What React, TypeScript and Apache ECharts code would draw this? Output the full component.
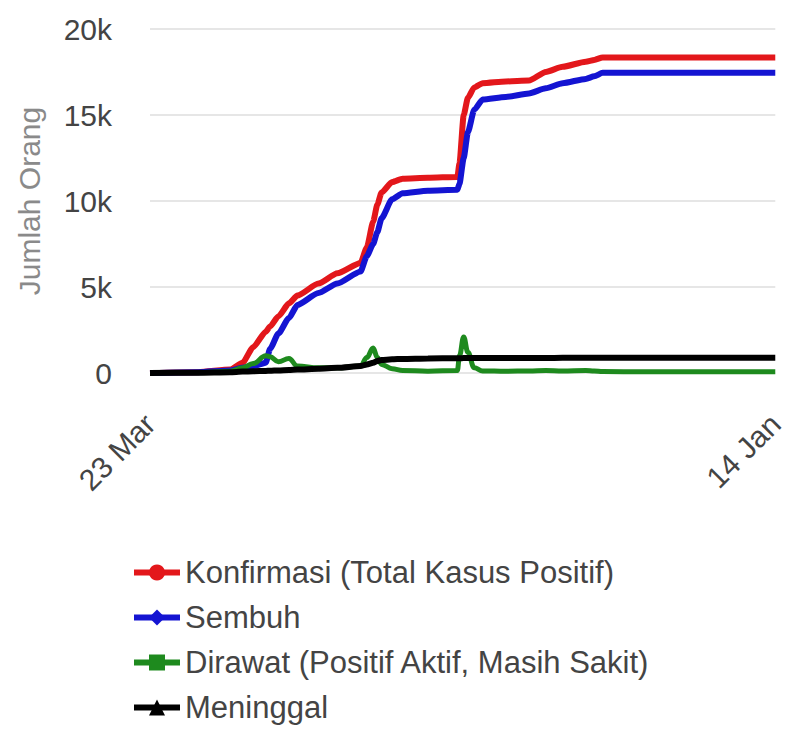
import React, { useEffect, useRef } from "react";
import * as echarts from "echarts";

// Days elapsed since the first date (23 Mar)
const startDate = "2020-03-23";
const endDate = "2021-01-14";
const xTickLabels = ["23 Mar", "14 Jan"];
const yTickLabels = ["0", "5k", "10k", "15k", "20k"];

const days = [0, 23, 38, 44, 49, 55, 57, 61, 66, 70, 80, 89, 100, 103, 106, 108, 110, 115, 120, 132, 146, 147, 149, 151, 154, 158, 169, 180, 188, 196, 207, 211, 215, 235, 258, 297];

const konfirmasi = [0, 50, 200, 600, 1500, 2400, 2700, 3300, 4050, 4500, 5200, 5800, 6400, 7300, 8800, 9800, 10500, 11100, 11300, 11350, 11400, 12200, 15000, 16000, 16600, 16850, 16950, 17000, 17500, 17800, 18100, 18200, 18350, 18350, 18350, 18350];
const sembuh = [0, 50, 150, 300, 400, 600, 1400, 2300, 3200, 3950, 4650, 5200, 5900, 6800, 7500, 8200, 9000, 10100, 10450, 10600, 10650, 11000, 12500, 14000, 15300, 15900, 16050, 16250, 16550, 16850, 17100, 17250, 17450, 17450, 17450, 17450];
const dirawat = [0, 20, 100, 300, 550, 1000, 950, 650, 850, 400, 300, 300, 400, 900, 1450, 900, 500, 250, 150, 100, 150, 1000, 2100, 1200, 300, 120, 100, 120, 150, 120, 150, 120, 80, 70, 70, 70];
const meninggal = [0, 20, 50, 80, 100, 120, 130, 150, 180, 200, 250, 300, 400, 500, 600, 700, 750, 800, 820, 850, 860, 860, 865, 865, 865, 870, 870, 870, 875, 880, 880, 885, 885, 885, 890, 890];

const seriesNames = ["Konfirmasi (Total Kasus Positif)", "Sembuh", "Dirawat (Positif Aktif, Masih Sakit)", "Meninggal"];
const seriesValues = [konfirmasi, sembuh, dirawat, meninggal];
const seriesColors = ["#e3171b", "#1414d2", "#1e8a1e", "#000000"];
const seriesSymbols = ["circle", "diamond", "rect", "triangle"];

const FONT = 'Arial, "Liberation Sans", sans-serif';

export default function App() {
  const ref = useRef<HTMLDivElement>(null);
  useEffect(() => {
    document.body.style.margin = "0";
    const chart = echarts.init(ref.current!, null, { renderer: "svg" });
    const totalDays = Math.round((Date.parse(endDate) - Date.parse(startDate)) / 86400000);
    chart.setOption({
      animation: false,
      backgroundColor: "#ffffff",
      textStyle: { fontFamily: FONT },
      grid: { left: 150, right: 6, top: 29, bottom: 356, containLabel: false },
      legend: {
        orient: "vertical",
        left: 126,
        top: 552,
        height: 200,
        itemWidth: 46,
        itemHeight: 20,
        itemGap: 14,
        data: seriesNames,
        lineStyle: { width: 6 },
        textStyle: { fontSize: 31, lineHeight: 31, color: "#444444", fontFamily: FONT, padding: [0, 0, 0, 0] },
      },
      xAxis: {
        type: "value",
        min: 0,
        max: totalDays,
        interval: totalDays,
        splitLine: { show: false },
        axisLine: { show: false },
        axisTick: { show: false },
        axisLabel: {
          rotate: 45,
          margin: 46,
          fontSize: 30,
          color: "#444444",
          fontFamily: FONT,
          formatter: (v: number) => (v === 0 ? xTickLabels[0] : xTickLabels[1]),
        },
      },
      yAxis: {
        type: "value",
        min: 0,
        max: 20000,
        interval: 5000,
        name: "Jumlah Orang",
        nameLocation: "middle",
        nameRotate: 90,
        nameGap: 106,
        nameTextStyle: { fontSize: 30, color: "#8a8a8a", fontFamily: FONT },
        axisLine: { show: false },
        axisTick: { show: false },
        splitLine: { lineStyle: { color: "#e6e6e6", width: 2 } },
        axisLabel: {
          margin: 38,
          fontSize: 30,
          color: "#444444",
          fontFamily: FONT,
          formatter: (v: number) => yTickLabels[Math.round(v / 5000)],
        },
      },
      series: seriesNames.map((name, i) => ({
        name,
        type: "line",
        symbol: seriesSymbols[i],
        showSymbol: false,
        smooth: i === 2 ? 0.4 : 0.2,
        smoothMonotone: "x",
        color: seriesColors[i],
        lineStyle: { width: i === 2 ? 5 : 6, color: seriesColors[i] },
        itemStyle: { color: seriesColors[i] },
        data: days.map((d, j) => [d, seriesValues[i][j]]),
        z: 2 + i,
      })),
    });
    return () => chart.dispose();
  }, []);
  return <div ref={ref} style={{ width: 788, height: 729 }} />;
}
